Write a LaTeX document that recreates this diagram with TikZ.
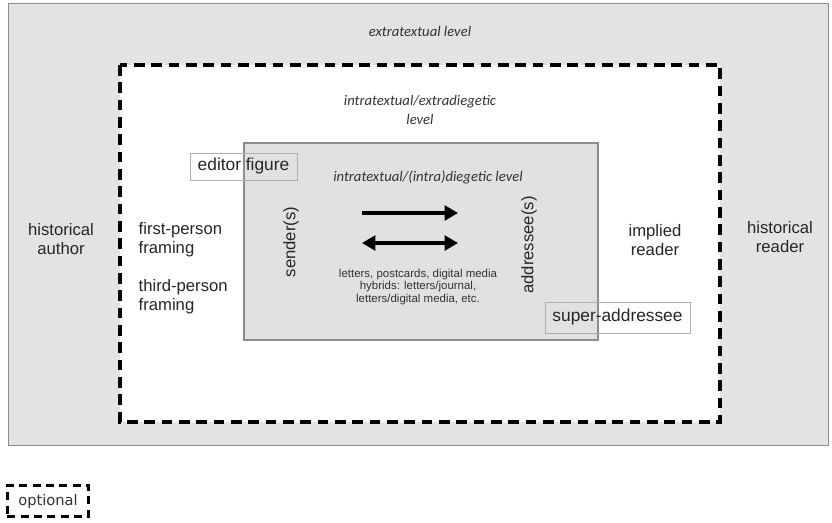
\documentclass[tikz,border=0pt]{standalone}
\usepackage{fontspec}
\setmainfont{Liberation Sans}
\newfontfamily\levelfont{Carlito}
\newfontfamily\legendfont{DejaVu Sans}
\usepackage{tikz}
\usetikzlibrary{arrows.meta}

\definecolor{outergray}{HTML}{E3E3E3}
\definecolor{innergray}{HTML}{DCDCDC}
\definecolor{edgegray}{HTML}{8C8C8C}

\tikzset{
  lbl/.style={align=center, font=\fontsize{12.5}{14}\selectfont, text=black!85},
  lbll/.style={align=left, font=\fontsize{12.5}{14}\selectfont, text=black!85},
  lvl/.style={align=center, font=\levelfont\itshape\fontsize{11}{14.5}\selectfont, text=black!80},
  smalltxt/.style={align=center, font=\fontsize{8.6}{9.6}\selectfont, text=black!80},
  tagbox/.style={draw=edgegray!70, font=\fontsize{13}{15}\selectfont, text=black!85},
  optbox/.style={draw, line width=2pt, dash pattern=on 6pt off 4pt},
  bigarrow/.style={line width=3pt, -{Triangle[length=10pt,width=11pt]}},
  bigdarrow/.style={line width=3pt, {Triangle[length=10pt,width=11pt]}-{Triangle[length=10pt,width=11pt]}}
}

\begin{document}
\begin{tikzpicture}[x=0.75pt, y=-0.75pt]
  \useasboundingbox (0, 0) rectangle (832, 522);

  % levels
  \draw[fill=outergray, draw=edgegray] (8, 3) rectangle (828, 445);
  \draw[fill=white, line width=2.6pt, dash pattern=on 8pt off 5pt] (120, 65) rectangle (720, 422);
  \draw[fill=innergray, fill opacity=0.85, draw=edgegray, thick] (244, 143) rectangle (598, 340);

  \node[tagbox, minimum width=80pt, minimum height=20pt] (editor) at (243.5, 166.5) {editor figure};
  \node[tagbox, minimum width=109pt, minimum height=23pt] (super) at (617.5, 317.5) {super-addressee};

  \node[lvl] (extra) at (420, 31) {extratextual level};
  \node[lvl] (intra) at (420, 110) {intratextual/extradiegetic\\level};
  \node[lvl] (dieg) at (428, 177) {intratextual/(intra)diegetic level};

  \node[lbl] (hauthor) at (61, 239) {historical\\author};
  \node[lbll, anchor=west] (first) at (134, 240) {first-person\\framing};
  \node[lbll, anchor=west] (third) at (134, 297) {third-person\\framing};
  \node[lbl, rotate=90] (sender) at (291, 242) {sender(s)};
  \node[lbl, rotate=90] (addr) at (529, 245) {addressee(s)};
  \node[lbl] (implied) at (655, 240) {implied\\reader};
  \node[lbl] (hreader) at (780, 237) {historical\\reader};

  \node[smalltxt] (media) at (418, 287) {letters, postcards, digital media\\hybrids: letters/journal,\\letters/digital media, etc.};

  \coordinate (a1) at (362, 213);
  \coordinate (b1) at (458, 213);
  \coordinate (a2) at (362, 243);
  \coordinate (b2) at (458, 243);
  \draw[bigarrow] (a1) -- (b1);
  \draw[bigdarrow] (a2) -- (b2);

  % legend
  \node[optbox, font=\legendfont\fontsize{11}{13}\selectfont, text=black!80, minimum width=61pt, minimum height=23pt] (opt) at (48, 501) {optional};
\end{tikzpicture}
\end{document}
